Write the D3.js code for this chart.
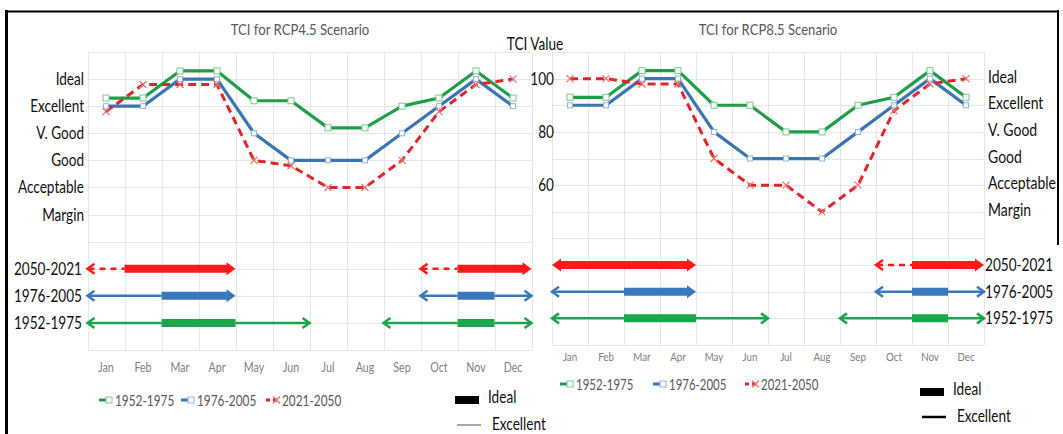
<!DOCTYPE html>
<html>
<head>
<meta charset="utf-8">
<title>TCI scenarios</title>
<script src="https://d3js.org/d3.v7.min.js"></script>
<style>
  body { margin: 0; padding: 0; background: #fff; overflow: hidden; }
  svg text { font-family: Lato, "Open Sans", sans-serif; }
</style>
</head>
<body>
<svg id="chart" width="1063" height="434"></svg>
<script>
// ---- data ----
var months = ["Jan", "Feb", "Mar", "Apr", "May", "Jun", "Jul", "Aug", "Sep", "Oct", "Nov", "Dec"];
var levels = ["Ideal", "Excellent", "V. Good", "Good", "Acceptable", "Margin"];
var levelValues = [100, 90, 80, 70, 60, 50];
var tciTicks = [100, 80, 60];
var seriesNames = ["1952-1975", "1976-2005", "2021-2050"];
var rowLabels = ["2050-2021", "1976-2005", "1952-1975"];
var rowValues = [30, 20, 10];

// TCI values per month
var rcp45_1952 = [93, 93, 103, 103, 92, 92, 82, 82, 90, 93, 103, 93];
var rcp45_1976 = [90, 90, 100, 100, 80, 70, 70, 70, 80, 90, 100, 90];
var rcp45_2021 = [88, 98, 98, 98, 70, 68, 60, 60, 70, 88, 98, 100];
var rcp85_1952 = [93, 93, 103, 103, 90, 90, 80, 80, 90, 93, 103, 93];
var rcp85_1976 = [90, 90, 100, 100, 80, 70, 70, 70, 80, 90, 100, 90];
var rcp85_2021 = [100, 100, 98, 98, 70, 60, 60, 50, 60, 88, 98, 100];

// comfort periods: runs of [first month, month after last, class]
var rcp45Per_2021 = [[[0, 1, "exc"], [1, 4, "ideal"]], [[9, 10, "exc"], [10, 12, "ideal"]]];
var rcp45Per_1976 = [[[0, 2, "exc"], [2, 4, "ideal"]], [[9, 10, "exc"], [10, 11, "ideal"], [11, 12, "exc"]]];
var rcp45Per_1952 = [[[0, 2, "exc"], [2, 4, "ideal"], [4, 6, "exc"]], [[8, 10, "exc"], [10, 11, "ideal"], [11, 12, "exc"]]];
var rcp85Per_2021 = [[[0, 4, "ideal"]], [[9, 10, "exc"], [10, 12, "ideal"]]];
var rcp85Per_1976 = [[[0, 2, "exc"], [2, 4, "ideal"]], [[9, 10, "exc"], [10, 11, "ideal"], [11, 12, "exc"]]];
var rcp85Per_1952 = [[[0, 2, "exc"], [2, 4, "ideal"], [4, 6, "exc"]], [[8, 10, "exc"], [10, 11, "ideal"], [11, 12, "exc"]]];

var lineColors = ["#1e9e48", "#3b75b4", "#e0262b"];
var arrowColors = ["#ff1a1a", "#3a78bd", "#1aa64a"]; // rows: 2050-2021, 1976-2005, 1952-1975

var svg = d3.select("#chart");

// narrow, Calibri-like text: Lato squeezed horizontally
function label(parent, x, y, s, size, anchor, fill, sq) {
  return parent.append("text")
    .attr("transform", "translate(" + x + "," + y + ") scale(" + (sq || 0.8) + ",1)")
    .attr("text-anchor", anchor || "start").attr("font-size", size)
    .attr("fill", fill || "#111").text(s);
}

// outer frame
svg.append("line").attr("x1", 6.5).attr("x2", 6.5).attr("y1", 10).attr("y2", 434)
  .attr("stroke", "#000").attr("stroke-width", 3);
svg.append("line").attr("x1", 5).attr("x2", 1059).attr("y1", 11.5).attr("y2", 11.5)
  .attr("stroke", "#000").attr("stroke-width", 2);
svg.append("line").attr("x1", 1058).attr("x2", 1058).attr("y1", 10).attr("y2", 245)
  .attr("stroke", "#000").attr("stroke-width", 2);

var panels = [
  {
    title: "TCI for RCP4.5 Scenario", titleX: 300,
    x0: 87.5, x1: 531.5, yBottom: 350, yTop: 52, monthY: 375, monthSize: 12.5,
    series: [rcp45_1952, rcp45_1976, rcp45_2021],
    periods: [rcp45Per_2021, rcp45Per_1976, rcp45Per_1952],
    legendX: [99, 181, 266], legendY: 400, legendSize: 15,
    keyX: 455, keyY: 400, keyLine: "#888"
  },
  {
    title: "TCI for RCP8.5 Scenario", titleX: 768,
    x0: 552, x1: 984, yBottom: 345, yTop: 52, monthY: 365, monthSize: 11.5,
    series: [rcp85_1952, rcp85_1976, rcp85_2021],
    periods: [rcp85Per_2021, rcp85Per_1976, rcp85Per_1952],
    legendX: [560, 653, 745], legendY: 384, legendSize: 14.5,
    keyX: 920, keyY: 392, keyLine: "#000"
  }
];

panels.forEach(function (p, pi) {
  var g = svg.append("g");
  var x = d3.scaleBand().domain(months).range([p.x0, p.x1]).padding(0);
  var y = d3.scaleLinear().domain([0, 110]).range([p.yBottom, p.yTop]);
  var cx = function (i) { return x(months[i]) + x.bandwidth() / 2; };

  // grid
  g.selectAll(".hg").data(d3.range(0, 111, 10)).join("line")
    .attr("x1", p.x0).attr("x2", p.x1)
    .attr("y1", function (d) { return Math.round(y(d)) + 0.5; })
    .attr("y2", function (d) { return Math.round(y(d)) + 0.5; })
    .attr("stroke", "#e6e6e6");
  g.selectAll(".vg").data(months.concat(["end"])).join("line")
    .attr("x1", function (d) { return Math.round(d === "end" ? p.x1 : x(d)) + 0.5; })
    .attr("x2", function (d) { return Math.round(d === "end" ? p.x1 : x(d)) + 0.5; })
    .attr("y1", p.yTop).attr("y2", p.yBottom)
    .attr("stroke", "#e6e6e6");

  // title
  label(g, p.titleX, 35, p.title, 16, "middle", "#595959", 0.82);

  // month axis
  var ax = g.append("g").attr("transform", "translate(0," + (p.monthY - 12) + ")")
    .call(d3.axisBottom(x).tickSize(0).tickPadding(0));
  ax.select(".domain").remove();
  ax.selectAll("text").attr("font-size", p.monthSize).attr("fill", "#808080")
    .attr("transform", "scale(0.85,1)")
    .style("font-family", "Lato, sans-serif");

  // lines
  var line = d3.line().x(function (d, i) { return cx(i); }).y(function (d) { return y(d); });
  p.series.forEach(function (s, si) {
    g.append("path").datum(s).attr("d", line).attr("fill", "none")
      .attr("stroke", lineColors[si]).attr("stroke-width", si === 2 ? 3 : 3.2)
      .attr("stroke-dasharray", si === 2 ? "8,5" : null)
      .attr("stroke-linejoin", "round");
  });
  // markers
  p.series.forEach(function (s, si) {
    if (si < 2) {
      var sz = si === 0 ? 6 : 5;
      g.selectAll(".m" + si).data(s).join("rect")
        .attr("x", function (d, i) { return cx(i) - sz / 2; })
        .attr("y", function (d) { return y(d) - sz / 2; })
        .attr("width", sz).attr("height", sz)
        .attr("fill", "#fff").attr("stroke", si === 0 ? "#7cc88f" : "#8fb3d9").attr("stroke-width", 1);
    } else {
      g.selectAll(".mx").data(s).join("path")
        .attr("d", function (d, i) {
          var a = cx(i), b = y(d), r = 3.5;
          return "M" + (a - r) + "," + (b - r) + "L" + (a + r) + "," + (b + r) +
            "M" + (a - r) + "," + (b + r) + "L" + (a + r) + "," + (b - r);
        })
        .attr("stroke", "#e87070").attr("stroke-width", 1.2).attr("fill", "none");
    }
  });

  // comfort-period arrows
  p.periods.forEach(function (runs, ri) {
    var yy = y(rowValues[ri]);
    var col = arrowColors[ri];
    var dashed = ri === 0;
    runs.forEach(function (run) {
      var xs = x(months[run[0][0]]);
      var last = run[run.length - 1];
      var xe = last[1] === 12 ? p.x1 : x(months[last[1]]);
      run.forEach(function (seg, k) {
        var a = x(months[seg[0]]);
        var b = seg[1] === 12 ? p.x1 : x(months[seg[1]]);
        var ideal = seg[2] === "ideal";
        if (k === 0) a += ideal ? 7 : 1;
        if (k === run.length - 1) b -= ideal ? 7 : 1;
        g.append("line").attr("x1", a).attr("x2", b).attr("y1", yy).attr("y2", yy)
          .attr("stroke", col).attr("stroke-width", ideal ? 8 : 2.5)
          .attr("stroke-dasharray", (!ideal && dashed) ? "6,5" : null);
      });
      [[xs, -1, run[0][2]], [xe, 1, last[2]]].forEach(function (h) {
        var tip = h[0], dir = h[1];
        if (h[2] === "ideal") {
          g.append("path")
            .attr("d", "M" + tip + "," + yy + "L" + (tip - dir * 9) + "," + (yy - 6.5) +
              "L" + (tip - dir * 9) + "," + (yy + 6.5) + "Z")
            .attr("fill", col);
        } else {
          g.append("path")
            .attr("d", "M" + (tip - dir * 7) + "," + (yy - 5) + "L" + tip + "," + yy +
              "L" + (tip - dir * 7) + "," + (yy + 5))
            .attr("fill", "none").attr("stroke", col).attr("stroke-width", 2.5);
        }
      });
    });
  });

  // series legend
  seriesNames.forEach(function (name, si) {
    var lx = p.legendX[si], ly = p.legendY;
    g.append("line").attr("x1", lx).attr("x2", lx + 13).attr("y1", ly).attr("y2", ly)
      .attr("stroke", lineColors[si]).attr("stroke-width", 3)
      .attr("stroke-dasharray", si === 2 ? "4,3" : null);
    if (si < 2) {
      g.append("rect").attr("x", lx + 7).attr("y", ly - 3).attr("width", 6).attr("height", 6)
        .attr("fill", "#fff").attr("stroke", si === 0 ? "#7cc88f" : "#8fb3d9");
    } else {
      g.append("path").attr("d", "M" + (lx + 7) + "," + (ly - 3.5) + "L" + (lx + 14) + "," + (ly + 3.5) +
        "M" + (lx + 7) + "," + (ly + 3.5) + "L" + (lx + 14) + "," + (ly - 3.5))
        .attr("stroke", "#e87070").attr("stroke-width", 1.2);
    }
    label(g, lx + 16, ly + 5.5, name, p.legendSize, "start", "#595959", 0.79);
  });

  // ideal / excellent key
  g.append("rect").attr("x", p.keyX).attr("y", p.keyY - 4).attr("width", 24).attr("height", 8).attr("fill", "#000");
  label(g, p.keyX + 33, p.keyY + 3, "Ideal", 17);
  g.append("line").attr("x1", p.keyX + 2).attr("x2", p.keyX + 26)
    .attr("y1", p.keyY + 25).attr("y2", p.keyY + 25)
    .attr("stroke", p.keyLine).attr("stroke-width", pi === 0 ? 1.5 : 2.5);
  label(g, p.keyX + 37, p.keyY + 30, "Excellent", 17);

  p.x = x; p.y = y;
});

// left panel: category labels and period labels
var yL = panels[0].y, yR = panels[1].y;
levels.forEach(function (d, i) { label(svg, 84, yL(levelValues[i]) + 6, d, 17, "end"); });
rowLabels.forEach(function (d, i) { label(svg, 82, yL(rowValues[i]) + 6, d, 17, "end"); });

// right panel: TCI value axis, category labels and period labels
label(svg, 535, 50, "TCI Value", 17, "middle");
tciTicks.forEach(function (d) { label(svg, 554, yR(d) + 6, d, 17, "end"); });
levels.forEach(function (d, i) { label(svg, 988, yR(levelValues[i]) + 4, d, 17.5, "start"); });
rowLabels.forEach(function (d, i) { label(svg, 985, yR(rowValues[i]) + 6, d, 17, "start"); });
</script>
</body>
</html>
